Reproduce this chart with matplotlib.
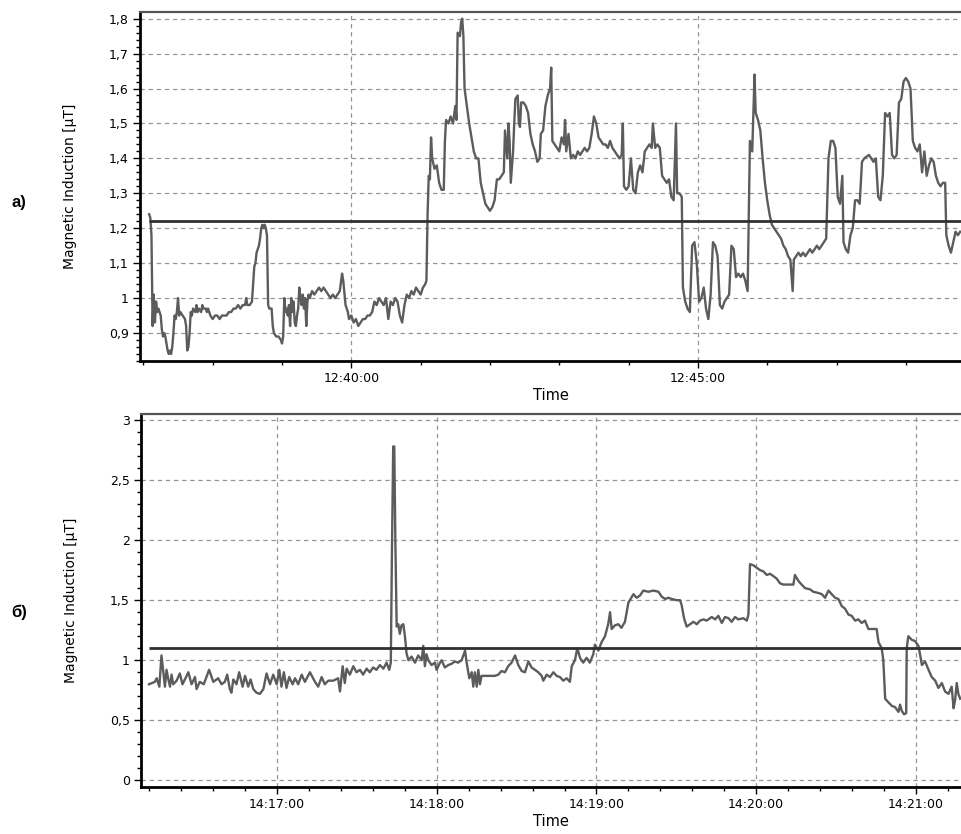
import datetime as dt
import matplotlib
matplotlib.use("Agg")
import matplotlib.pyplot as plt
import matplotlib.dates as mdates
from matplotlib.ticker import MultipleLocator, FuncFormatter

# a) 12:36:00 + seconds
top_start = dt.datetime(2000, 1, 1, 12, 36, 0)
top_sec = [65, 66, 67, 68, 69, 70, 71, 72, 73, 74, 75, 76, 77, 78, 79, 80, 81, 82, 83, 84,
           85, 86, 87, 88, 89, 90, 91, 92, 94, 96, 97, 98, 99, 100, 101, 102, 103, 105, 106, 107,
           108, 110, 111, 112, 114, 115, 116, 118, 120, 122, 124, 126, 128, 130, 132, 134, 136, 138, 140, 142,
           144, 146, 148, 149, 150, 152, 154, 156, 157, 158, 159, 160, 161, 162, 163, 164, 165, 166, 167, 168,
           169, 171, 172, 173, 175, 177, 179, 180, 181, 182, 183, 184, 185, 186, 187, 188, 189, 190, 191, 192,
           193, 194, 195, 196, 197, 198, 199, 200, 201, 202, 203, 204, 206, 208, 210, 212, 214, 216, 218, 220,
           222, 224, 226, 228, 230, 232, 233, 235, 237, 238, 240, 242, 244, 246, 248, 250, 252, 254, 256, 258,
           260, 262, 264, 266, 268, 270, 272, 274, 276, 278, 280, 282, 284, 286, 288, 290, 292, 294, 296, 298,
           300, 302, 304, 305, 306, 307, 308, 309, 310, 312, 314, 316, 318, 320, 321, 322, 324, 326, 328, 330,
           331, 332, 334, 335, 336, 337, 338, 340, 342, 344, 346, 348, 350, 352, 354, 356, 358, 360, 362, 364,
           366, 368, 370, 372, 373, 375, 376, 377, 378, 380, 381, 382, 384, 385, 386, 387, 389, 391, 393, 395,
           397, 399, 401, 403, 404, 406, 408, 410, 412, 413, 414, 416, 418, 420, 422, 424, 425, 426, 428, 430,
           432, 434, 436, 438, 440, 442, 444, 446, 448, 450, 452, 454, 456, 458, 460, 462, 464, 466, 468, 470,
           472, 474, 475, 476, 478, 480, 482, 484, 486, 488, 490, 492, 494, 496, 498, 500, 501, 503, 505, 507,
           509, 511, 513, 515, 517, 519, 521, 522, 524, 526, 527, 529, 531, 533, 535, 537, 539, 541, 543, 545,
           547, 549, 551, 553, 555, 557, 559, 561, 563, 565, 567, 569, 571, 573, 575, 577, 579, 581, 583, 585,
           587, 589, 590, 592, 594, 596, 598, 600, 602, 604, 606, 608, 610, 612, 614, 616, 618, 620, 622, 623,
           625, 627, 629, 631, 633, 635, 637, 639, 641, 643, 645, 647, 649, 651, 653, 655, 657, 659, 661, 663,
           665, 666, 668, 670, 672, 674, 676, 678, 680, 682, 684, 688, 692, 694, 696, 698, 700, 702, 704, 706,
           708, 710, 712, 714, 716, 718, 720, 722, 724, 726, 728, 730, 732, 734, 736, 738, 740, 742, 744, 746,
           748, 750, 752, 754, 755, 757, 759, 761, 763, 765, 767]
top_val = [1.24, 1.23, 1.18, 0.92, 1.01, 0.93, 0.99, 0.96, 0.97, 0.96, 0.95, 0.91, 0.89, 0.90, 0.89, 0.87, 0.85, 0.84, 0.85, 0.84,
           0.86, 0.90, 0.95, 0.94, 0.96, 1.00, 0.95, 0.96, 0.95, 0.94, 0.92, 0.85, 0.86, 0.90, 0.96, 0.95, 0.97, 0.96, 0.98, 0.96,
           0.97, 0.96, 0.98, 0.97, 0.97, 0.96, 0.97, 0.95, 0.94, 0.95, 0.95, 0.94, 0.95, 0.95, 0.95, 0.96, 0.96, 0.97, 0.97, 0.98,
           0.97, 0.98, 0.98, 1.00, 0.98, 0.98, 0.99, 1.09, 1.10, 1.13, 1.14, 1.15, 1.17, 1.20, 1.21, 1.20, 1.21, 1.20, 1.18, 0.98,
           0.97, 0.97, 0.92, 0.90, 0.89, 0.89, 0.88, 0.87, 0.89, 1.00, 0.96, 0.97, 0.95, 0.98, 0.92, 1.00, 0.96, 0.99, 0.93, 0.92,
           0.95, 0.97, 1.03, 1.00, 0.98, 1.01, 0.97, 1.00, 0.92, 0.99, 1.01, 1.00, 1.02, 1.01, 1.02, 1.03, 1.02, 1.03, 1.02, 1.01,
           1.00, 1.01, 1.00, 1.01, 1.02, 1.07, 1.05, 0.98, 0.96, 0.94, 0.95, 0.93, 0.94, 0.92, 0.93, 0.94, 0.94, 0.95, 0.95, 0.96,
           0.99, 0.98, 1.00, 0.99, 0.98, 1.00, 0.94, 0.99, 0.98, 1.00, 0.99, 0.95, 0.93, 0.98, 1.01, 1.00, 1.02, 1.01, 1.03, 1.02,
           1.01, 1.03, 1.04, 1.05, 1.24, 1.35, 1.34, 1.46, 1.40, 1.37, 1.38, 1.33, 1.31, 1.31, 1.45, 1.51, 1.50, 1.52, 1.50, 1.55,
           1.51, 1.76, 1.75, 1.79, 1.80, 1.75, 1.60, 1.55, 1.50, 1.46, 1.42, 1.40, 1.40, 1.33, 1.30, 1.27, 1.26, 1.25, 1.26, 1.28,
           1.34, 1.34, 1.35, 1.36, 1.48, 1.40, 1.50, 1.45, 1.33, 1.42, 1.50, 1.57, 1.58, 1.50, 1.49, 1.56, 1.56, 1.55, 1.53, 1.47,
           1.44, 1.42, 1.39, 1.40, 1.47, 1.48, 1.55, 1.58, 1.60, 1.66, 1.45, 1.44, 1.43, 1.42, 1.46, 1.44, 1.51, 1.42, 1.47, 1.40,
           1.41, 1.40, 1.42, 1.41, 1.42, 1.43, 1.42, 1.43, 1.47, 1.52, 1.50, 1.46, 1.45, 1.44, 1.44, 1.43, 1.45, 1.43, 1.42, 1.41,
           1.40, 1.41, 1.50, 1.32, 1.31, 1.32, 1.40, 1.31, 1.30, 1.36, 1.38, 1.36, 1.42, 1.43, 1.44, 1.43, 1.50, 1.43, 1.44, 1.43,
           1.35, 1.34, 1.33, 1.34, 1.29, 1.28, 1.50, 1.30, 1.30, 1.29, 1.03, 0.99, 0.97, 0.96, 1.15, 1.16, 1.10, 0.99, 1.00, 1.03,
           0.97, 0.94, 1.01, 1.16, 1.15, 1.12, 0.98, 0.97, 0.99, 1.00, 1.01, 1.15, 1.14, 1.06, 1.07, 1.06, 1.07, 1.05, 1.02, 1.45,
           1.42, 1.64, 1.53, 1.51, 1.48, 1.40, 1.33, 1.28, 1.24, 1.21, 1.20, 1.19, 1.18, 1.17, 1.15, 1.14, 1.12, 1.11, 1.02, 1.11,
           1.12, 1.13, 1.12, 1.13, 1.12, 1.13, 1.14, 1.13, 1.14, 1.15, 1.14, 1.15, 1.16, 1.17, 1.40, 1.45, 1.45, 1.43, 1.29, 1.27,
           1.35, 1.16, 1.14, 1.13, 1.18, 1.20, 1.28, 1.28, 1.27, 1.39, 1.40, 1.41, 1.39, 1.40, 1.29, 1.28, 1.35, 1.53, 1.52, 1.53,
           1.41, 1.40, 1.41, 1.56, 1.57, 1.62, 1.63, 1.62, 1.60, 1.45, 1.43, 1.42, 1.44, 1.36, 1.42, 1.35, 1.38, 1.40, 1.39, 1.35,
           1.33, 1.32, 1.33, 1.33, 1.18, 1.15, 1.13, 1.16, 1.19, 1.18, 1.19]
top_limit = 1.22

# б) 14:16:00 + seconds
bot_start = dt.datetime(2000, 1, 1, 14, 16, 0)
bot_sec = [11.8, 14.0, 14.7, 15.7, 16.5, 17.2, 17.8, 18.4, 19.0, 19.7, 20.3, 20.9, 22.2, 23.4, 24.4, 25.3, 26.6, 27.8, 29.1, 29.7,
           30.9, 32.4, 34.4, 36.0, 37.8, 39.1, 40.3, 41.2, 42.2, 42.8, 43.5, 44.7, 45.7, 47.0, 47.9, 49.1, 50.0, 51.0, 52.2, 53.5,
           54.8, 56.0, 57.3, 58.5, 59.8, 60.8, 61.6, 62.5, 63.5, 64.5, 65.8, 66.7, 67.9, 69.2, 70.4, 72.3, 74.2, 75.4, 76.7, 77.9,
           79.2, 81.1, 82.9, 83.6, 84.6, 85.4, 86.1, 87.3, 88.6, 89.8, 91.1, 92.3, 93.6, 94.8, 96.1, 97.3, 98.6, 99.9, 101.1, 102.1,
           102.7, 103.1, 103.6, 104.0, 104.4, 104.9, 105.5, 106.1, 106.7, 107.4, 108.0, 108.6, 109.3, 110.5, 111.8, 113.0, 114.3, 114.9, 115.5, 116.1,
           116.8, 118.0, 119.3, 119.9, 121.2, 121.8, 123.0, 124.3, 125.5, 126.8, 128.0, 129.3, 130.6, 131.2, 132.2, 133.1, 133.7, 134.3, 135.0, 135.6,
           136.2, 136.8, 138.1, 140.0, 141.8, 143.1, 144.3, 145.6, 146.8, 148.1, 149.4, 150.6, 151.9, 153.1, 154.4, 155.6, 156.9, 158.1, 159.4, 160.0,
           161.3, 162.5, 163.8, 165.0, 166.3, 167.5, 168.8, 170.0, 170.7, 171.9, 172.8, 173.8, 175.0, 176.3, 177.5, 178.8, 179.4, 180.7, 181.9, 183.2,
           184.4, 185.1, 185.7, 186.9, 188.2, 189.4, 190.7, 192.0, 193.9, 195.1, 196.4, 197.6, 199.5, 201.4, 203.3, 204.5, 205.8, 207.0, 208.3, 210.1,
           211.4, 212.0, 212.9, 213.9, 215.2, 216.4, 217.7, 218.9, 220.2, 221.4, 223.3, 224.6, 225.8, 227.1, 228.3, 229.6, 230.8, 232.1, 233.3, 235.2,
           236.5, 237.1, 237.7, 239.0, 240.2, 241.5, 242.7, 244.0, 245.2, 246.5, 247.7, 249.0, 250.2, 252.1, 254.0, 254.6, 255.9, 257.1, 258.4, 260.3,
           261.5, 263.4, 264.7, 265.9, 267.2, 268.4, 269.7, 270.9, 272.2, 273.4, 274.7, 275.9, 277.2, 278.4, 279.7, 280.9, 282.2, 283.5, 285.3, 286.0,
           287.2, 287.8, 288.5, 289.7, 291.0, 292.2, 293.5, 294.1, 294.7, 295.6, 296.4, 296.6, 297.2, 298.5, 299.7, 301.0, 301.6, 302.3, 303.5, 304.8,
           306.0, 307.3, 308.5, 309.8, 311.0, 312.3, 313.5, 314.2, 314.8, 315.4, 316.0, 316.7]
bot_val = [0.80, 0.82, 0.85, 0.78, 1.04, 0.90, 0.78, 0.92, 0.85, 0.78, 0.88, 0.80, 0.83, 0.89, 0.80, 0.84, 0.90, 0.80, 0.86, 0.76,
           0.82, 0.80, 0.92, 0.82, 0.85, 0.80, 0.82, 0.88, 0.76, 0.73, 0.84, 0.80, 0.90, 0.78, 0.87, 0.78, 0.84, 0.76, 0.73, 0.72,
           0.76, 0.89, 0.80, 0.88, 0.80, 0.92, 0.78, 0.90, 0.77, 0.86, 0.80, 0.85, 0.80, 0.88, 0.82, 0.90, 0.82, 0.78, 0.86, 0.80,
           0.83, 0.83, 0.85, 0.74, 0.95, 0.81, 0.93, 0.88, 0.95, 0.90, 0.92, 0.88, 0.93, 0.90, 0.94, 0.92, 0.96, 0.93, 0.98, 0.92,
           0.98, 1.86, 2.78, 2.78, 2.00, 1.28, 1.30, 1.22, 1.29, 1.30, 1.20, 1.06, 1.00, 1.03, 0.98, 1.04, 1.00, 1.12, 0.95, 1.05,
           1.00, 0.96, 0.98, 0.92, 0.98, 1.00, 0.94, 0.96, 0.97, 0.99, 0.98, 1.00, 1.08, 0.98, 0.85, 0.90, 0.78, 0.90, 0.78, 0.92,
           0.80, 0.87, 0.87, 0.87, 0.87, 0.88, 0.91, 0.90, 0.95, 0.98, 1.04, 0.96, 0.91, 0.90, 0.99, 0.94, 0.92, 0.90, 0.87, 0.83,
           0.88, 0.86, 0.90, 0.87, 0.86, 0.83, 0.85, 0.82, 0.95, 1.00, 1.10, 1.02, 0.98, 1.02, 0.98, 1.05, 1.13, 1.08, 1.15, 1.20,
           1.30, 1.40, 1.26, 1.29, 1.30, 1.27, 1.32, 1.48, 1.55, 1.52, 1.54, 1.58, 1.57, 1.58, 1.57, 1.53, 1.51, 1.52, 1.51, 1.50,
           1.50, 1.46, 1.35, 1.28, 1.30, 1.32, 1.30, 1.33, 1.34, 1.33, 1.36, 1.34, 1.37, 1.31, 1.36, 1.35, 1.32, 1.36, 1.34, 1.35,
           1.33, 1.38, 1.80, 1.79, 1.77, 1.75, 1.74, 1.71, 1.72, 1.70, 1.68, 1.64, 1.63, 1.63, 1.63, 1.71, 1.66, 1.63, 1.60, 1.59,
           1.57, 1.56, 1.55, 1.52, 1.58, 1.55, 1.52, 1.51, 1.45, 1.43, 1.38, 1.37, 1.33, 1.34, 1.31, 1.33, 1.26, 1.26, 1.26, 1.15,
           1.10, 1.00, 0.68, 0.65, 0.62, 0.61, 0.57, 0.63, 0.58, 0.55, 0.56, 1.10, 1.20, 1.17, 1.16, 1.12, 1.05, 0.96, 0.99, 0.92,
           0.86, 0.83, 0.77, 0.81, 0.74, 0.72, 0.78, 0.60, 0.67, 0.81, 0.72, 0.68]
bot_limit = 1.1

line_color = "#5c5c5c"
limit_color = "#303030"
grid_dash = (0, (3.5, 3))


def to_times(start, secs):
    return [start + dt.timedelta(seconds=s) for s in secs]


def comma(v, pos):
    return f"{round(v, 2):g}".replace(".", ",")


def style_axes(ax):
    ax.grid(True, which="major", linestyle=grid_dash, color="#959595", linewidth=0.9)
    ax.spines["left"].set_linewidth(2)
    ax.spines["bottom"].set_linewidth(2)
    ax.spines["top"].set_color("#555555")
    ax.spines["top"].set_linewidth(1.6)
    ax.spines["right"].set_visible(False)
    ax.tick_params(which="major", length=5, width=1, labelsize=9, pad=3)
    ax.tick_params(which="minor", length=3, width=1)
    ax.yaxis.set_major_formatter(FuncFormatter(comma))
    ax.xaxis.set_major_formatter(mdates.DateFormatter("%H:%M:%S"))
    ax.set_xlabel("Time", fontsize=10.5, labelpad=2)
    ax.set_ylabel("Magnetic Induction [μT]", fontsize=10, labelpad=23)


fig = plt.figure(figsize=(9.61, 8.34), dpi=100)

# а)
ax1 = fig.add_axes([0.1457, 0.5672, 0.8543, 0.4184])
t1 = to_times(top_start, top_sec)
ax1.plot(t1, top_val, color=line_color, linewidth=1.7, zorder=3)
x1_end = top_start + dt.timedelta(seconds=767.7)
ax1.hlines(top_limit, t1[0], x1_end, color=limit_color, linewidth=2, zorder=4)
ax1.set_xlim(top_start + dt.timedelta(seconds=57.1), x1_end)
ax1.set_ylim(0.82, 1.819)
ax1.yaxis.set_major_locator(MultipleLocator(0.1))
ax1.yaxis.set_minor_locator(MultipleLocator(0.02))
ax1.xaxis.set_major_locator(mdates.MinuteLocator(byminute=[40, 45]))
ax1.xaxis.set_minor_locator(mdates.MinuteLocator())
style_axes(ax1)

# б)
ax2 = fig.add_axes([0.1467, 0.0564, 0.8533, 0.4472])
t2 = to_times(bot_start, bot_sec)
ax2.plot(t2, bot_val, color=line_color, linewidth=1.7, zorder=3)
x2_end = bot_start + dt.timedelta(seconds=317)
ax2.hlines(bot_limit, t2[0], x2_end, color=limit_color, linewidth=2, zorder=4)
ax2.set_xlim(bot_start + dt.timedelta(seconds=8.8), x2_end)
ax2.set_ylim(-0.055, 3.05)
ax2.yaxis.set_major_locator(MultipleLocator(0.5))
ax2.yaxis.set_minor_locator(MultipleLocator(0.1))
ax2.xaxis.set_major_locator(mdates.MinuteLocator())
ax2.xaxis.set_minor_locator(mdates.SecondLocator(bysecond=range(0, 60, 12)))
style_axes(ax2)

fig.text(0.012, 1 - 203 / 834, "а)", fontsize=12, fontweight="bold", family="Liberation Sans", va="center")
fig.text(0.012, 1 - 612 / 834, "б)", fontsize=12, fontweight="bold", family="Liberation Sans", va="center")

plt.savefig("out.png", dpi=100)
